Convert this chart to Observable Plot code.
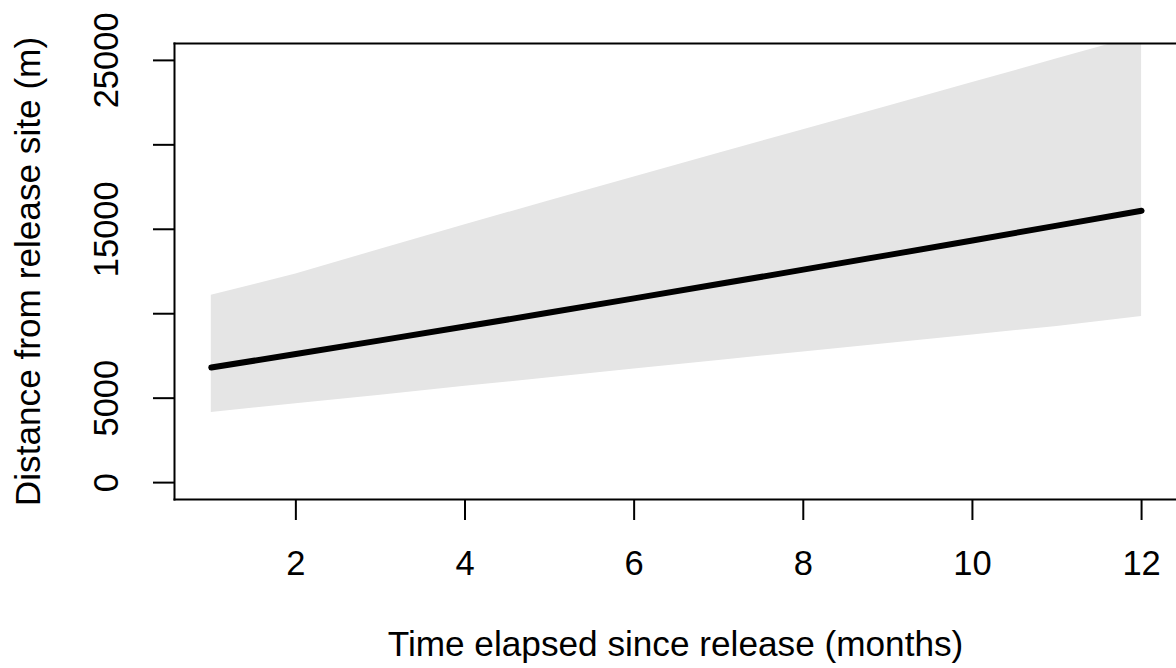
<!DOCTYPE html>
<html>
<head>
<meta charset="utf-8">
<script src="https://cdn.jsdelivr.net/npm/d3@7"></script>
<script src="https://cdn.jsdelivr.net/npm/@observablehq/plot@0.6"></script>
<style>
  html, body { margin: 0; padding: 0; background: #fff; }
</style>
</head>
<body>
<div id="chart"></div>
<script>
const months = [1, 2, 3, 4, 5, 6, 7, 8, 9, 10, 11, 12];
const fitted = [6820, 7610, 8420, 9240, 10070, 10910, 11755, 12610, 13470, 14340, 15218, 16100];
const upperCI = [11100, 12345, 13820, 15270, 16690, 18100, 19497, 20894, 22290, 23690, 25090, 26490];
const lowerCI = [4150, 4670, 5180, 5700, 6210, 6720, 7230, 7740, 8240, 8740, 9250, 9830];

const xTicks = [2, 4, 6, 8, 10, 12];
const yTicks = [0, 5000, 10000, 15000, 20000, 25000];
const yTickLabels = [0, 5000, 15000, 25000];

const xTitle = "Time elapsed since release (months)";
const yTitle = "Distance from release site (m)";

const rows = months.map((m, i) => ({month: m, fit: fitted[i], lo: lowerCI[i], hi: upperCI[i]}));

const fs = 34.5;
const fsTitle = 35.2;

const chart = Plot.plot({
  width: 1176,
  height: 668,
  marginLeft: 174,
  marginRight: 0,
  marginTop: 43,
  marginBottom: 169,
  style: {fontFamily: "'Liberation Sans', Arial, sans-serif", fontSize: fs + "px", color: "#000", background: "#fff"},
  x: {domain: [0.565, 12.413]},
  y: {domain: [-1000, 26000]},
  marks: [
    Plot.areaY(rows, {x: "month", y1: "lo", y2: "hi", fill: "#e5e5e5", clip: true}),
    Plot.line(rows, {x: "month", y: "fit", stroke: "#000", strokeWidth: 6, strokeLinecap: "round", strokeLinejoin: "round", clip: true}),
    Plot.frame({anchor: "top", stroke: "#000", strokeWidth: 2}),
    Plot.frame({anchor: "left", stroke: "#000", strokeWidth: 2}),
    Plot.frame({anchor: "bottom", stroke: "#000", strokeWidth: 2}),
    Plot.axisX({ticks: xTicks, tickSize: 21, tickPadding: 30, tickFormat: d => String(d), strokeWidth: 2, label: null, fontSize: fs}),
    Plot.axisY({ticks: yTicks, tickSize: 21, tickFormat: () => "", strokeWidth: 2, label: null}),
    Plot.text(yTickLabels, {y: d => d, text: d => String(d), frameAnchor: "left", dx: -57, rotate: -90, textAnchor: "middle", lineAnchor: "bottom", fontSize: fs, fill: "#000"}),
    Plot.text([xTitle], {text: d => d, frameAnchor: "bottom", dy: 156, lineAnchor: "bottom", textAnchor: "middle", fontSize: fsTitle, fill: "#000"}),
    Plot.text([yTitle], {text: d => d, frameAnchor: "left", dx: -135, rotate: -90, lineAnchor: "bottom", textAnchor: "middle", fontSize: fsTitle, fill: "#000"})
  ]
});
document.getElementById("chart").appendChild(chart);
</script>
</body>
</html>
